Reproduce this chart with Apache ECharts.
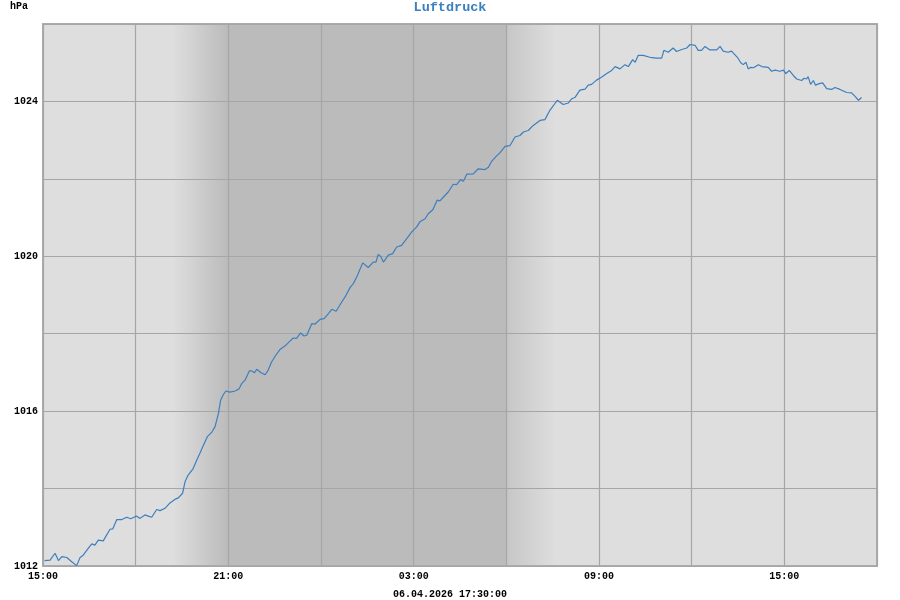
<!DOCTYPE html>
<html>
<head>
<meta charset="utf-8">
<script src="https://cdn.jsdelivr.net/npm/echarts@6/dist/echarts.min.js"></script>
<style>html,body{margin:0;padding:0;background:#fff}#c{width:900px;height:600px}</style>
</head>
<body>
<div id="c"></div>
<script>
// hours after 05.04.2026 15:00
var hours = [0.05,0.10,0.23,0.39,0.50,0.61,0.77,0.93,1.09,1.20,1.30,1.47,1.58,1.68,1.79,1.95,2.17,2.26,2.39,2.55,2.71,2.84,3.03,3.14,3.30,3.41,3.52,3.68,3.79,3.95,4.11,4.27,4.38,4.52,4.60,4.70,4.85,4.98,5.08,5.19,5.32,5.46,5.57,5.68,5.75,5.84,5.92,6.05,6.22,6.35,6.43,6.54,6.68,6.76,6.84,6.92,7.06,7.19,7.29,7.40,7.54,7.67,7.83,7.97,8.10,8.21,8.34,8.45,8.54,8.70,8.81,8.97,9.10,9.24,9.35,9.49,9.67,9.78,9.94,10.05,10.16,10.35,10.53,10.69,10.78,10.85,10.93,11.02,11.18,11.32,11.45,11.61,11.72,11.94,12.10,12.20,12.37,12.47,12.62,12.76,12.85,13.01,13.12,13.28,13.39,13.52,13.61,13.72,13.93,14.09,14.31,14.42,14.53,14.67,14.79,14.96,15.12,15.28,15.44,15.55,15.71,15.87,16.09,16.25,16.41,16.65,16.84,17.01,17.12,17.22,17.38,17.55,17.65,17.76,17.92,18.09,18.25,18.41,18.52,18.68,18.84,18.95,19.09,19.17,19.27,19.43,19.65,19.87,20.03,20.10,20.24,20.40,20.51,20.68,20.84,20.95,21.11,21.21,21.32,21.43,21.59,21.81,21.92,22.02,22.18,22.29,22.35,22.48,22.59,22.67,22.76,22.83,22.91,23.00,23.16,23.27,23.48,23.59,23.70,23.75,23.86,23.97,24.05,24.16,24.29,24.40,24.56,24.64,24.72,24.77,24.85,24.94,25.01,25.13,25.24,25.37,25.53,25.64,25.80,26.02,26.18,26.29,26.40,26.50];
var pressure = [1012.14,1012.14,1012.15,1012.33,1012.14,1012.24,1012.22,1012.11,1012.01,1012.22,1012.28,1012.46,1012.57,1012.54,1012.67,1012.65,1012.95,1012.96,1013.20,1013.20,1013.26,1013.22,1013.29,1013.23,1013.32,1013.29,1013.26,1013.46,1013.43,1013.49,1013.63,1013.72,1013.76,1013.88,1014.18,1014.35,1014.50,1014.74,1014.91,1015.11,1015.34,1015.45,1015.60,1015.94,1016.28,1016.43,1016.52,1016.49,1016.52,1016.58,1016.71,1016.80,1017.04,1017.04,1016.99,1017.08,1016.99,1016.94,1017.06,1017.27,1017.45,1017.59,1017.68,1017.79,1017.89,1017.88,1018.02,1017.94,1017.96,1018.26,1018.25,1018.37,1018.39,1018.52,1018.63,1018.58,1018.82,1018.95,1019.19,1019.30,1019.47,1019.83,1019.71,1019.85,1019.85,1020.05,1020.00,1019.85,1020.03,1020.07,1020.24,1020.28,1020.40,1020.63,1020.76,1020.89,1020.97,1021.10,1021.20,1021.45,1021.43,1021.57,1021.66,1021.86,1021.85,1021.98,1021.94,1022.12,1022.13,1022.26,1022.24,1022.30,1022.46,1022.58,1022.67,1022.84,1022.86,1023.08,1023.12,1023.21,1023.25,1023.38,1023.51,1023.53,1023.77,1024.03,1023.92,1023.96,1024.07,1024.10,1024.29,1024.32,1024.42,1024.44,1024.55,1024.63,1024.72,1024.80,1024.90,1024.84,1024.95,1024.90,1025.08,1025.01,1025.19,1025.19,1025.14,1025.12,1025.12,1025.32,1025.27,1025.38,1025.29,1025.34,1025.38,1025.47,1025.45,1025.32,1025.32,1025.42,1025.33,1025.33,1025.42,1025.30,1025.27,1025.30,1025.33,1025.14,1025.00,1024.95,1025.01,1024.84,1024.88,1024.87,1024.95,1024.90,1024.88,1024.78,1024.81,1024.84,1024.78,1024.81,1024.72,1024.80,1024.67,1024.58,1024.54,1024.60,1024.58,1024.64,1024.44,1024.54,1024.42,1024.46,1024.48,1024.33,1024.31,1024.36,1024.31,1024.23,1024.22,1024.13,1024.03,1024.10];
var xTickLabels = ['15:00','21:00','03:00','09:00','15:00'];
var yTickLabels = [1012, 1016, 1020, 1024];
var titleText = 'Luftdruck';
var unitText = 'hPa';
var dateText = '06.04.2026 17:30:00';
// shading in hours after 15:00: dusk start, night start, night end, dawn end
var dusk = [4.2, 6.0];
var dawn = [15.0, 16.6];

var seriesData = hours.map(function (h, i) { return [h, pressure[i]]; });
var chart = echarts.init(document.getElementById('c'));
var font = 'Liberation Mono';
function grad(c1, c2) {
  return new echarts.graphic.LinearGradient(0, 0, 1, 0, [{offset: 0, color: c1}, {offset: 1, color: c2}]);
}
chart.setOption({
  animation: false,
  backgroundColor: '#ffffff',
  title: [
    {text: titleText, left: 'center', top: 1, padding: 0, textStyle: {fontFamily: font, fontSize: 13.5, fontWeight: 'bold', color: '#3a80c0'}},
    {text: unitText, left: 10, top: 1, padding: 0, textStyle: {fontFamily: font, fontSize: 10, fontWeight: 'bold', color: '#000'}},
    {text: dateText, left: 'center', top: 589, padding: 0, textStyle: {fontFamily: font, fontSize: 10, fontWeight: 'bold', color: '#000'}}
  ],
  grid: {z: 3, left: 43, right: 23, top: 24, bottom: 34, show: true, borderColor: '#ababab', borderWidth: 2, backgroundColor: 'transparent'},
  xAxis: {
    type: 'value', min: 0, max: 27, interval: 3, z: 3,
    axisLine: {show: false}, axisTick: {show: false},
    splitLine: {show: true, lineStyle: {color: '#a6a6a6', width: 1.2}},
    axisLabel: {
      margin: 5, fontFamily: font, fontSize: 10, fontWeight: 'bold', color: '#000',
      formatter: function (v) { return v % 6 === 0 && xTickLabels[v / 6] ? xTickLabels[v / 6] : ''; }
    }
  },
  yAxis: {
    type: 'value', min: 1012, max: 1026, interval: 2, z: 3,
    axisLine: {show: false}, axisTick: {show: false},
    splitLine: {show: true, lineStyle: {color: '#a6a6a6', width: 1.2}},
    axisLabel: {
      margin: 5, fontFamily: font, fontSize: 10, fontWeight: 'bold', color: '#000',
      formatter: function (v) { return yTickLabels.indexOf(v) >= 0 ? String(v) : ''; }
    }
  },
  series: [
    {
      type: 'line', z: 1, silent: true, data: seriesData, showSymbol: false,
      lineStyle: {opacity: 0},
      markArea: {
        silent: true, z: 1,
        data: [
          [{xAxis: 0, itemStyle: {color: '#dedede'}}, {xAxis: 27}],
          [{xAxis: dusk[0], itemStyle: {color: grad('#dedede', '#bbbbbb')}}, {xAxis: dusk[1]}],
          [{xAxis: dusk[1], itemStyle: {color: '#bbbbbb'}}, {xAxis: dawn[0]}],
          [{xAxis: dawn[0], itemStyle: {color: grad('#c6c6c6', '#dedede')}}, {xAxis: dawn[1]}]
        ]
      }
    },
    {
      type: 'line', z: 6, data: seriesData, showSymbol: false, smooth: false,
      lineStyle: {color: '#3d7fbd', width: 1.2}
    }
  ]
});
</script>
</body>
</html>
